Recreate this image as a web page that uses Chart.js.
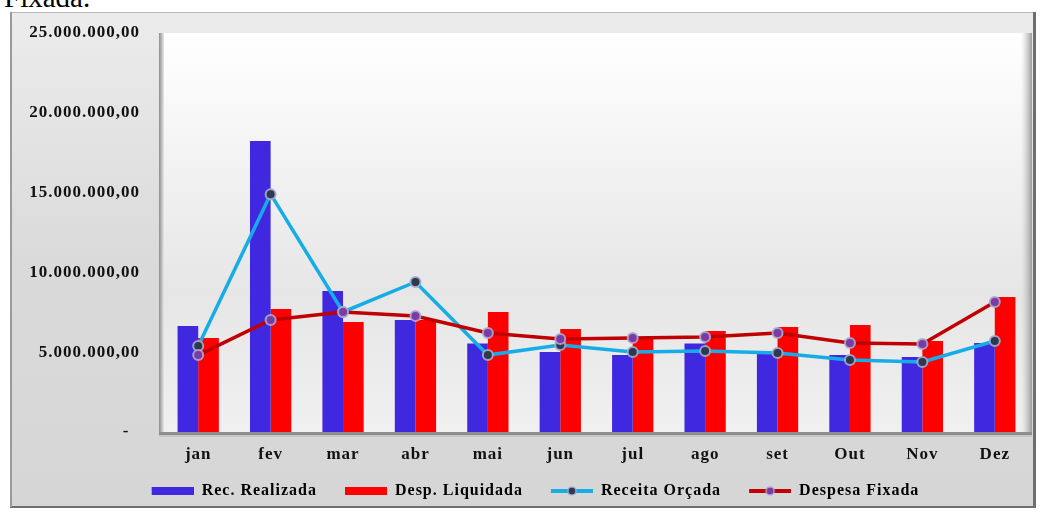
<!DOCTYPE html>
<html>
<head>
<meta charset="utf-8">
<script src="https://cdn.jsdelivr.net/npm/chart.js@4.4.1/dist/chart.umd.min.js"></script>
<style>
  html, body { margin: 0; padding: 0; background: #fff; overflow: hidden; }
  #wrap { position: relative; width: 1043px; height: 513px; }
  #head { position: absolute; left: 4px; top: -17px; font: 29px/29px "Liberation Serif", serif; color: #000; }
  canvas { position: absolute; left: 0; top: 0; }
</style>
</head>
<body>
<div id="wrap">
  <div id="head">Fixada.</div>
  <canvas id="chart" width="1043" height="513"></canvas>
</div>
<script>
// chart values (R$)
const months = ['jan', 'fev', 'mar', 'abr', 'mai', 'jun', 'jul', 'ago', 'set', 'Out', 'Nov', 'Dez'];
const recRealizada = [6640000, 18230000, 8830000, 7020000, 5550000, 5010000, 4820000, 5550000, 4950000, 4820000, 4700000, 5580000];
const despLiquidada = [5890000, 7700000, 6890000, 7020000, 7520000, 6450000, 5900000, 6330000, 6580000, 6700000, 5700000, 8460000];
const receitaOrcada = [5390000, 14900000, 7520000, 9400000, 4820000, 5450000, 5010000, 5070000, 4950000, 4510000, 4390000, 5700000];
const despesaFixada = [4820000, 7020000, 7520000, 7270000, 6200000, 5830000, 5890000, 5950000, 6200000, 5580000, 5510000, 8150000];
const yTicks = [0, 5000000, 10000000, 15000000, 20000000, 25000000];

const serif = '"Liberation Serif", "Times New Roman", serif';

function formatBR(v) {
    if (v === 0) return '-  ';
    const s = Math.round(v).toString().replace(/\B(?=(\d{3})+(?!\d))/g, '.');
    return s + ',00';
}

// small canvases used as legend symbols (blank lead-in gives the gap between items)
const LEAD = 18;
function barSymbol(color) {
    const c = document.createElement('canvas');
    c.width = LEAD + 42; c.height = 8;
    const g = c.getContext('2d');
    g.fillStyle = color;
    g.fillRect(LEAD, 0, 42, 8);
    return c;
}
function lineSymbol(color, dot) {
    const c = document.createElement('canvas');
    c.width = LEAD + 42; c.height = 12;
    const g = c.getContext('2d');
    g.strokeStyle = color;
    g.lineWidth = 4;
    g.beginPath(); g.moveTo(LEAD, 6); g.lineTo(LEAD + 42, 6); g.stroke();
    g.fillStyle = dot;
    g.strokeStyle = 'rgba(170,170,205,0.9)';
    g.lineWidth = 1.5;
    g.beginPath(); g.arc(LEAD + 21, 6, 4, 0, Math.PI * 2); g.fill(); g.stroke();
    return c;
}

const legendSymbols = [
    barSymbol('#4028e0'),
    barSymbol('#ff0000'),
    lineSymbol('#16ade6', '#2b3b4f'),
    lineSymbol('#c00000', '#7b3aa6')
];

// wider letter spacing like the original export
const spacing = {
    id: 'spacing',
    beforeLayout(chart) { chart.ctx.letterSpacing = '1px'; },
    beforeDraw(chart) { chart.ctx.letterSpacing = '1px'; }
};

// frame and plot area background
const frameBackground = {
    id: 'frameBackground',
    beforeDraw(chart) {
        const ctx = chart.ctx;
        const a = chart.chartArea;
        ctx.save();
        // outer frame
        let g = ctx.createLinearGradient(0, 12, 0, 507);
        g.addColorStop(0, '#ececec');
        g.addColorStop(0.5, '#dadada');
        g.addColorStop(1, '#d6d6d6');
        ctx.fillStyle = g;
        ctx.fillRect(10, 12, 1025, 495);
        ctx.strokeStyle = '#b8b8b8';
        ctx.lineWidth = 1;
        ctx.strokeRect(10.5, 12.5, 1024, 494);
        ctx.fillStyle = '#6e6e6e';
        ctx.fillRect(1033, 12, 3, 496);
        ctx.fillRect(10, 506, 1026, 2);
        ctx.fillStyle = '#9a9a9a';
        ctx.fillRect(10, 12, 2, 495);

        // plot area
        g = ctx.createLinearGradient(0, a.top, 0, a.bottom);
        g.addColorStop(0, '#ffffff');
        g.addColorStop(0.65, '#e6e6e6');
        g.addColorStop(1, '#f0f0f0');
        ctx.fillStyle = g;
        ctx.fillRect(a.left, a.top, a.right - a.left, a.bottom - a.top);
        // bevel left
        g = ctx.createLinearGradient(a.left - 3, 0, a.left + 2, 0);
        g.addColorStop(0, '#8c8c8c');
        g.addColorStop(1, '#e8e8e8');
        ctx.fillStyle = g;
        ctx.fillRect(a.left - 3, a.top, 5, a.bottom - a.top);
        // bevel right
        g = ctx.createLinearGradient(a.right - 10, 0, a.right + 1, 0);
        g.addColorStop(0, 'rgba(200,200,200,0)');
        g.addColorStop(1, '#9c9c9c');
        ctx.fillStyle = g;
        ctx.fillRect(a.right - 10, a.top, 11, a.bottom - a.top);
        // floor
        ctx.fillStyle = '#8e8e8e';
        ctx.fillRect(a.left - 3, a.bottom, a.right - a.left + 4, 3);
        ctx.fillStyle = '#c4c4c4';
        ctx.fillRect(a.left - 3, a.bottom + 3, a.right - a.left + 4, 2);
        ctx.restore();
    }
};

const ctx = document.getElementById('chart').getContext('2d');
new Chart(ctx, {
    data: {
        labels: months,
        datasets: [
            {
                type: 'bar',
                label: 'Rec. Realizada',
                data: recRealizada,
                backgroundColor: '#4028e0',
                borderWidth: 0,
                barPercentage: 1,
                categoryPercentage: 0.57,
                order: 2
            },
            {
                type: 'bar',
                label: 'Desp. Liquidada',
                data: despLiquidada,
                backgroundColor: '#ff0000',
                borderWidth: 0,
                barPercentage: 1,
                categoryPercentage: 0.57,
                order: 2
            },
            {
                type: 'line',
                label: 'Receita Orçada',
                data: receitaOrcada,
                borderColor: '#16ade6',
                borderWidth: 3.5,
                pointRadius: 5,
                pointBorderWidth: 2,
                pointBackgroundColor: '#2b3b4f',
                pointBorderColor: 'rgba(170,170,205,0.9)',
                tension: 0,
                order: 1
            },
            {
                type: 'line',
                label: 'Despesa Fixada',
                data: despesaFixada,
                borderColor: '#c00000',
                borderWidth: 3.5,
                pointRadius: 5,
                pointBorderWidth: 2,
                pointBackgroundColor: '#7b3aa6',
                pointBorderColor: 'rgba(170,170,205,0.9)',
                tension: 0,
                order: 0
            }
        ]
    },
    options: {
        responsive: false,
        animation: false,
        layout: { padding: { left: 22, right: 12, top: 33, bottom: 4 } },
        scales: {
            x: {
                grid: { display: false, drawTicks: false },
                border: { display: false },
                ticks: {
                    color: '#111',
                    padding: 12,
                    font: { family: serif, size: 17, weight: 'bold' }
                },
                afterFit(scale) { scale.height = 41; }
            },
            y: {
                min: 0,
                max: 25000000,
                afterBuildTicks(scale) { scale.ticks = yTicks.map(v => ({ value: v })); },
                grid: { display: false, drawTicks: false },
                border: { display: false },
                ticks: {
                    color: '#111',
                    padding: 22,
                    font: { family: serif, size: 17, weight: 'bold' },
                    callback: v => formatBR(v)
                },
                afterFit(scale) { scale.width = 140; }
            }
        },
        plugins: {
            tooltip: { enabled: false },
            legend: {
                position: 'bottom',
                labels: {
                    usePointStyle: true,
                    pointStyleWidth: LEAD + 42,
                    padding: 10,
                    color: '#111',
                    font: { family: serif, size: 16, weight: 'bold' },
                    generateLabels(chart) {
                        return chart.data.datasets.map((ds, i) => ({
                            text: ds.label,
                            pointStyle: legendSymbols[i],
                            fillStyle: 'transparent',
                            strokeStyle: 'transparent',
                            lineWidth: 0,
                            hidden: false,
                            datasetIndex: i
                        }));
                    }
                }
            }
        }
    },
    plugins: [spacing, frameBackground]
});
</script>
</body>
</html>
